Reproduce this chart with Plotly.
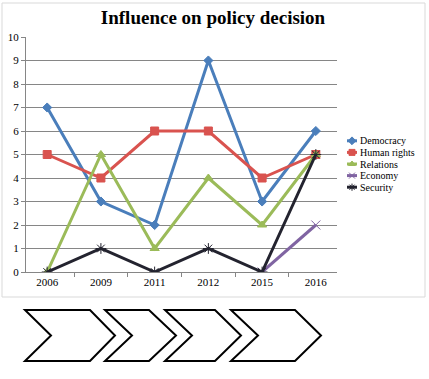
import plotly.graph_objects as go

years = ["2006", "2009", "2011", "2012", "2015", "2016"]
democracy = [7, 3, 2, 9, 3, 6]
human_rights = [5, 4, 6, 6, 4, 5]
relations = [0, 5, 1, 4, 2, 5]
economy = [None, None, None, None, 0, 2]
security = [0, 1, 0, 1, 0, 5]
names = ["Democracy", "Human rights", "Relations", "Economy", "Security"]

W, H = 429, 379

def px(x):
    return x / W

def py(y):
    return (H - y) / H

styles = [
    ("#4A7EBB", "diamond", 7),
    ("#D9534F", "square", 8),
    ("#9BBB59", "triangle-up", 8),
    ("#8064A2", "x-thin-open", 9),
    ("#23232F", "asterisk-open", 9),
]
values = [democracy, human_rights, relations, economy, security]

fig = go.Figure()
for name, vals, (col, sym, sz) in zip(names, values, styles):
    fig.add_trace(go.Scatter(
        x=years, y=vals, name=name, mode="lines+markers",
        line=dict(color=col, width=3),
        marker=dict(symbol=sym, size=sz, color=col, line=dict(color=col, width=1)),
        connectgaps=False, showlegend=False,
    ))

# legend drawn on an overlay axis
annotations = []
for i, (name, (col, sym, sz)) in enumerate(zip(names, styles)):
    fig.add_trace(go.Scatter(
        x=[0, 1], y=[i, i], xaxis="x2", yaxis="y2", mode="lines",
        line=dict(color=col, width=3), showlegend=False, hoverinfo="skip"))
    fig.add_trace(go.Scatter(
        x=[0.5], y=[i], xaxis="x2", yaxis="y2", mode="markers",
        marker=dict(symbol=sym, size=6, color=col, line=dict(color=col, width=1)),
        showlegend=False, hoverinfo="skip"))
    annotations.append(dict(x=1, y=i, xref="x2", yref="y2", text=name, showarrow=False,
                            xanchor="left", yanchor="middle", xshift=1,
                            font=dict(family="Liberation Serif, serif", size=10, color="black")))

# chevrons (decoration), in pixel coordinates: left, notch, top-right, tip
chevrons = [(25, 51, 90, 115), (105, 132, 149, 176), (165, 192, 215, 241), (231, 258, 295, 321)]
ytop, ymid, ybot = 310, 335.5, 361
shapes = []
for l, n, tr, tip in chevrons:
    path = (f"M {px(l)} {py(ytop)} L {px(tr)} {py(ytop)} L {px(tip)} {py(ymid)} "
            f"L {px(tr)} {py(ybot)} L {px(l)} {py(ybot)} L {px(n)} {py(ymid)} Z")
    shapes.append(dict(type="path", path=path, xref="paper", yref="paper",
                       line=dict(color="black", width=2), fillcolor="white"))
shapes.append(dict(type="rect", xref="paper", yref="paper",
                   x0=px(2), x1=px(425), y0=py(297), y1=py(3),
                   line=dict(color="#D9D9D9", width=1), layer="below"))

tickfont = dict(family="Liberation Serif, serif", size=11, color="black")
fig.update_layout(
    width=W, height=H,
    margin=dict(l=0, r=0, t=0, b=0, autoexpand=False),
    paper_bgcolor="white", plot_bgcolor="white",
    font=dict(family="Liberation Serif, serif", size=10, color="black"),
    title=dict(text="<b>Influence on policy decision</b>", x=px(213), xanchor="center",
               y=py(17), yanchor="middle",
               font=dict(family="Liberation Serif, DejaVu Serif, serif", size=19, color="black")),
    showlegend=False,
    shapes=shapes,
    annotations=annotations,
    xaxis=dict(domain=[px(26), px(337)], type="category", showgrid=False, showline=True,
               linecolor="#868686", linewidth=1, ticks="outside", tickson="boundaries",
               ticklen=4, tickcolor="#868686", tickfont=tickfont, anchor="y"),
    yaxis=dict(domain=[py(272), py(37)], range=[0, 10], dtick=1, showgrid=True,
               gridcolor="#868686", gridwidth=1, showline=True, linecolor="#868686",
               linewidth=1, zeroline=False, ticks="outside", ticklen=4,
               tickcolor="#868686", tickfont=tickfont, anchor="x"),
    xaxis2=dict(domain=[px(347), px(357)], range=[0, 1], anchor="y2",
                visible=False, fixedrange=True),
    yaxis2=dict(domain=[py(193), py(135)], range=[4.5, -0.5], anchor="x2",
                visible=False, fixedrange=True),
)

fig.write_html("out.html")
